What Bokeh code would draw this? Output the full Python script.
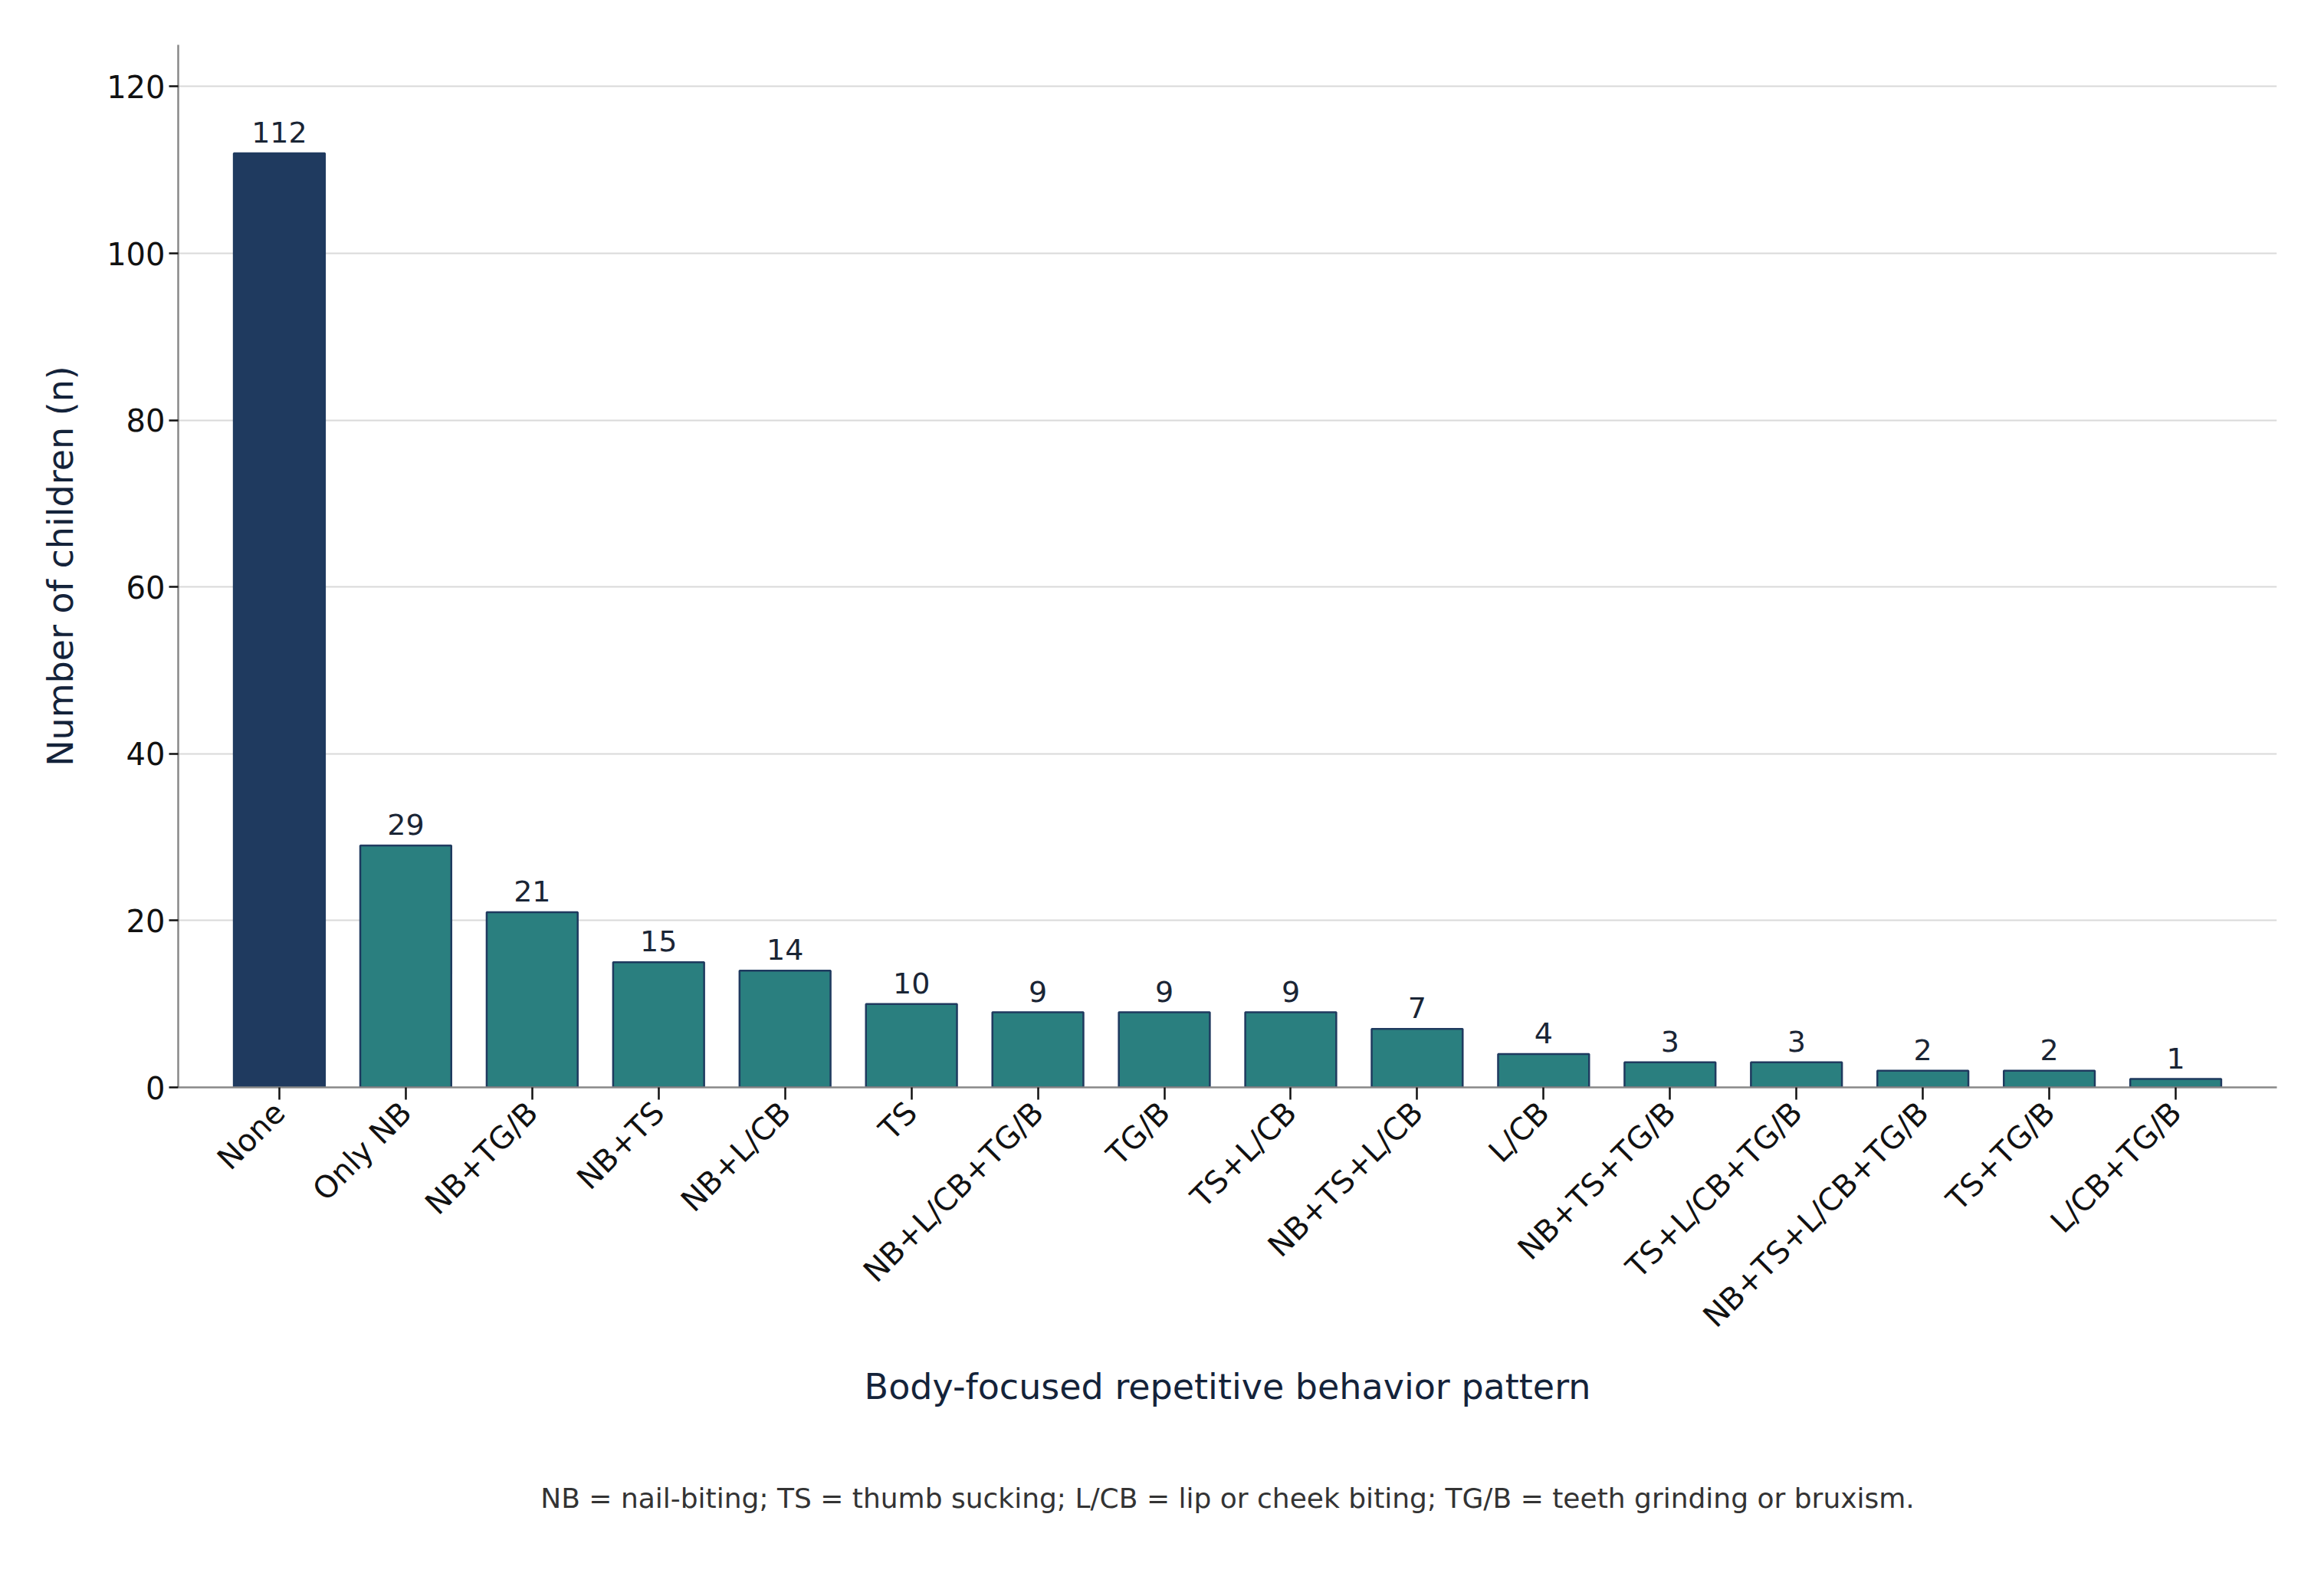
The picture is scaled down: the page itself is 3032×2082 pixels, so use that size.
from math import pi
from bokeh.plotting import figure
from bokeh.models import ColumnDataSource, Title, LabelSet, Range1d, FactorRange
from bokeh.core.properties import value
from bokeh.embed import file_html
from bokeh.resources import INLINE

categories = ["None", "Only NB", "NB+TG/B", "NB+TS", "NB+L/CB", "TS", "NB+L/CB+TG/B",
              "TG/B", "TS+L/CB", "NB+TS+L/CB", "L/CB", "NB+TS+TG/B", "TS+L/CB+TG/B",
              "NB+TS+L/CB+TG/B", "TS+TG/B", "L/CB+TG/B"]
counts = [112, 29, 21, 15, 14, 10, 9, 9, 9, 7, 4, 3, 3, 2, 2, 1]
colors = ["#1f3a5f"] + ["#2a7f7f"] * (len(categories) - 1)

src = ColumnDataSource(dict(x=categories, y=counts, c=colors, t=[str(v) for v in counts]))

p = figure(x_range=FactorRange(factors=categories, range_padding=0.3, range_padding_units="absolute"),
           width=3016, height=2066, output_backend="svg",
           toolbar_location=None, min_border_left=232, min_border_right=46,
           min_border_top=58, min_border_bottom=100)
p.y_range = Range1d(0, 125)
p.vbar(x="x", top="y", width=0.72, fill_color="c", line_color="#1f3a5f", line_width=2.5, source=src)
p.add_layout(LabelSet(x="x", y="y", text="t", source=src, text_align="center", y_offset=14,
                      text_font=value("DejaVu Sans"), text_font_size="38px", text_color="#1a2535"))

p.outline_line_color = None
p.xgrid.grid_line_color = None
p.ygrid.grid_line_color = "#d9d9d9"
p.ygrid.grid_line_width = 2
p.yaxis.ticker = [0, 20, 40, 60, 80, 100, 120]
for ax in (p.xaxis, p.yaxis):
    ax.axis_line_color = "#888888"
    ax.axis_line_width = 2.5
    ax.major_tick_line_color = "#111111"
    ax.major_tick_line_width = 2.5
    ax.minor_tick_line_color = None
    ax.major_tick_in = 0
    ax.major_label_text_font = "DejaVu Sans"
    ax.major_label_text_font_size = "40px"
    ax.major_label_text_color = "#111111"
    ax.axis_label_text_font = "DejaVu Sans"
    ax.axis_label_text_font_size = "46px"
    ax.axis_label_text_font_style = "normal"
    ax.axis_label_text_color = "#14233a"
p.yaxis.major_tick_out = 12
p.xaxis.major_tick_out = 16
p.xaxis.major_label_orientation = pi / 4
p.xaxis.major_label_standoff = 10
p.xaxis.axis_label = "Body-focused repetitive behavior pattern"
p.xaxis.axis_label_standoff = 23
p.yaxis.axis_label = "Number of children (n)"
p.yaxis.axis_label_standoff = 30

p.add_layout(Title(text="NB = nail-biting; TS = thumb sucking; L/CB = lip or cheek biting; TG/B = teeth grinding or bruxism.",
                   align="center", text_font="DejaVu Sans", text_font_size="36px",
                   text_font_style="normal", text_color="#333333", standoff=184), "below")

open("out.html", "w").write(file_html(p, INLINE))
